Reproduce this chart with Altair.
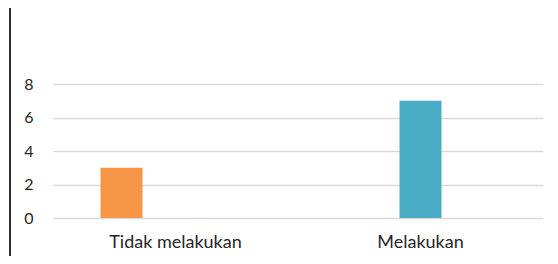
import altair as alt
import pandas as pd

categories = ["Tidak melakukan", "Melakukan"]
values = [3, 7]
colors = ["#F79646", "#4BACC6"]
y_ticks = [0, 2, 4, 6, 8]

df = pd.DataFrame({"cat": categories, "val": values})

x_enc = alt.X("cat:N", sort=categories, title=None,
              scale=alt.Scale(paddingInner=0, paddingOuter=0),
              axis=alt.Axis(labelAngle=0, ticks=False, domain=False, grid=False,
                            labelPadding=15, labelFontSize=18,
                            labelFont="Lato", labelColor="#262626"))
y_enc = alt.Y("val:Q", title=None,
              scale=alt.Scale(domain=[0, 8], nice=False),
              axis=alt.Axis(values=y_ticks, ticks=False, domain=False,
                            labelPadding=20, labelFontSize=16,
                            labelFont="Lato", labelColor="#262626",
                            gridColor="#d9d9d9", gridWidth=1.5))
col_enc = alt.Color("cat:N", scale=alt.Scale(domain=categories, range=colors), legend=None)

bar1 = alt.Chart(df).transform_filter(alt.datum.cat == categories[0]).mark_bar(
    size=42, xOffset=-54).encode(x=x_enc, y=y_enc, color=col_enc)
bar2 = alt.Chart(df).transform_filter(alt.datum.cat == categories[1]).mark_bar(
    size=42).encode(x=x_enc, y=y_enc, color=col_enc)

border = alt.Chart(df).mark_rule(color="#222", strokeWidth=1.5).encode(
    x=alt.value(-43), y=alt.value(-76), y2=alt.value(172))

chart = alt.layer(bar1, bar2, border).properties(
    width=490, height=134,
    autosize=alt.AutoSizeParams(type="none"),
    padding={"left": 45, "top": 76, "right": 7, "bottom": 38},
).configure(background="white").configure_view(strokeWidth=0, stroke="transparent")

chart.save("out.html", embed_options={"renderer": "svg", "actions": False})
